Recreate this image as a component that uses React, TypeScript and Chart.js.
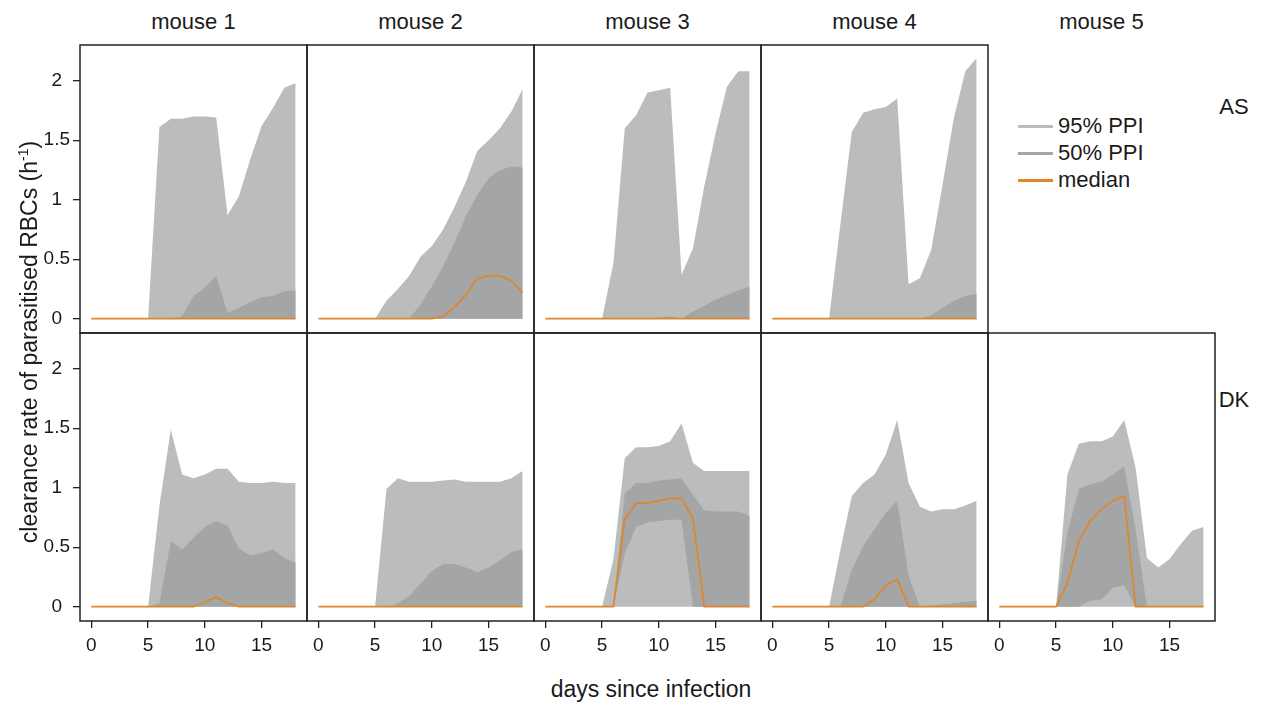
import React, { useEffect, useRef } from 'react';
import { Chart, registerables } from 'chart.js';

Chart.register(...registerables);

// ---------- data ----------
const days = [0, 1, 2, 3, 4, 5, 6, 7, 8, 9, 10, 11, 12, 13, 14, 15, 16, 17, 18];
const mice = ['mouse 1', 'mouse 2', 'mouse 3', 'mouse 4', 'mouse 5'];
const groups = ['AS', 'DK'];
const yTicks = [0, 0.5, 1, 1.5, 2];
const xTicks = [0, 5, 10, 15];
const legendLabels = ['95% PPI', '50% PPI', 'median'];
const zeros = [0, 0, 0, 0, 0, 0, 0, 0, 0, 0, 0, 0, 0, 0, 0, 0, 0, 0, 0];

// AS group
const asM1Upper95 = [0, 0, 0, 0, 0, 0, 1.61, 1.68, 1.68, 1.7, 1.7, 1.69, 0.87, 1.03, 1.34, 1.62, 1.77, 1.94, 1.98];
const asM1Upper50 = [0, 0, 0, 0, 0, 0, 0, 0, 0.02, 0.19, 0.26, 0.36, 0.05, 0.09, 0.14, 0.18, 0.19, 0.23, 0.24];
const asM1Median = zeros;

const asM2Upper95 = [0, 0, 0, 0, 0, 0, 0.15, 0.25, 0.36, 0.52, 0.61, 0.75, 0.94, 1.15, 1.41, 1.5, 1.6, 1.74, 1.93];
const asM2Upper50 = [0, 0, 0, 0, 0, 0, 0, 0, 0, 0.12, 0.27, 0.44, 0.64, 0.86, 1.04, 1.18, 1.25, 1.28, 1.27];
const asM2Median = [0, 0, 0, 0, 0, 0, 0, 0, 0, 0, 0, 0.02, 0.1, 0.2, 0.34, 0.36, 0.36, 0.32, 0.22];

const asM3Upper95 = [0, 0, 0, 0, 0, 0, 0.47, 1.6, 1.71, 1.9, 1.92, 1.94, 0.37, 0.59, 1.11, 1.56, 1.95, 2.08, 2.08];
const asM3Upper50 = [0, 0, 0, 0, 0, 0, 0, 0, 0, 0, 0.01, 0.02, 0, 0.06, 0.11, 0.16, 0.2, 0.24, 0.27];
const asM3Median = zeros;

const asM4Upper95 = [0, 0, 0, 0, 0, 0, 0.8, 1.57, 1.73, 1.76, 1.78, 1.85, 0.29, 0.34, 0.58, 1.13, 1.69, 2.08, 2.19];
const asM4Upper50 = [0, 0, 0, 0, 0, 0, 0, 0, 0, 0, 0, 0, 0, 0, 0.03, 0.09, 0.15, 0.19, 0.21];
const asM4Median = zeros;

// DK group
const dkM1Upper95 = [0, 0, 0, 0, 0, 0, 0.85, 1.49, 1.11, 1.08, 1.11, 1.16, 1.16, 1.05, 1.04, 1.04, 1.05, 1.04, 1.04];
const dkM1Upper50 = [0, 0, 0, 0, 0, 0, 0.03, 0.55, 0.48, 0.58, 0.67, 0.72, 0.68, 0.49, 0.43, 0.45, 0.48, 0.41, 0.37];
const dkM1Median = [0, 0, 0, 0, 0, 0, 0, 0, 0, 0, 0.04, 0.08, 0.03, 0, 0, 0, 0, 0, 0];

const dkM2Upper95 = [0, 0, 0, 0, 0, 0, 0.99, 1.08, 1.05, 1.05, 1.05, 1.06, 1.07, 1.05, 1.05, 1.05, 1.05, 1.08, 1.14];
const dkM2Upper50 = [0, 0, 0, 0, 0, 0, 0, 0.03, 0.09, 0.19, 0.3, 0.36, 0.36, 0.33, 0.29, 0.33, 0.39, 0.46, 0.48];
const dkM2Median = zeros;

const dkM3Upper95 = [0, 0, 0, 0, 0, 0, 0.4, 1.25, 1.34, 1.34, 1.35, 1.39, 1.54, 1.21, 1.14, 1.14, 1.14, 1.14, 1.14];
const dkM3Lower50 = [0, 0, 0, 0, 0, 0, 0, 0.45, 0.67, 0.71, 0.72, 0.73, 0.73, 0, 0, 0, 0, 0, 0];
const dkM3Upper50 = [0, 0, 0, 0, 0, 0, 0, 0.95, 1.04, 1.04, 1.06, 1.07, 1.08, 0.94, 0.81, 0.8, 0.8, 0.8, 0.76];
const dkM3Median = [0, 0, 0, 0, 0, 0, 0, 0.74, 0.87, 0.87, 0.89, 0.91, 0.91, 0.74, 0, 0, 0, 0, 0];

const dkM4Upper95 = [0, 0, 0, 0, 0, 0, 0.48, 0.93, 1.04, 1.11, 1.28, 1.57, 1.04, 0.84, 0.8, 0.82, 0.82, 0.85, 0.89];
const dkM4Upper50 = [0, 0, 0, 0, 0, 0, 0, 0.31, 0.51, 0.65, 0.79, 0.89, 0.26, 0, 0.01, 0.02, 0.03, 0.04, 0.05];
const dkM4Median = [0, 0, 0, 0, 0, 0, 0, 0, 0, 0.06, 0.18, 0.23, 0, 0, 0, 0, 0, 0, 0];

const dkM5Upper95 = [0, 0, 0, 0, 0, 0, 1.11, 1.37, 1.39, 1.39, 1.43, 1.57, 1.17, 0.41, 0.33, 0.4, 0.53, 0.64, 0.67];
const dkM5Lower50 = [0, 0, 0, 0, 0, 0, 0, 0, 0.05, 0.06, 0.16, 0.18, 0, 0, 0, 0, 0, 0, 0];
const dkM5Upper50 = [0, 0, 0, 0, 0, 0, 0.62, 0.99, 1.03, 1.05, 1.11, 1.18, 0.65, 0, 0, 0, 0, 0, 0];
const dkM5Median = [0, 0, 0, 0, 0, 0, 0.2, 0.55, 0.72, 0.82, 0.89, 0.93, 0, 0, 0, 0, 0, 0, 0];

type Series = { l95: number[]; u95: number[]; l50: number[]; u50: number[]; med: number[] };
type PanelDef = { row: number; col: number; s: Series };

const panels: PanelDef[] = [
  { row: 0, col: 0, s: { l95: zeros, u95: asM1Upper95, l50: zeros, u50: asM1Upper50, med: asM1Median } },
  { row: 0, col: 1, s: { l95: zeros, u95: asM2Upper95, l50: zeros, u50: asM2Upper50, med: asM2Median } },
  { row: 0, col: 2, s: { l95: zeros, u95: asM3Upper95, l50: zeros, u50: asM3Upper50, med: asM3Median } },
  { row: 0, col: 3, s: { l95: zeros, u95: asM4Upper95, l50: zeros, u50: asM4Upper50, med: asM4Median } },
  { row: 1, col: 0, s: { l95: zeros, u95: dkM1Upper95, l50: zeros, u50: dkM1Upper50, med: dkM1Median } },
  { row: 1, col: 1, s: { l95: zeros, u95: dkM2Upper95, l50: zeros, u50: dkM2Upper50, med: dkM2Median } },
  { row: 1, col: 2, s: { l95: zeros, u95: dkM3Upper95, l50: dkM3Lower50, u50: dkM3Upper50, med: dkM3Median } },
  { row: 1, col: 3, s: { l95: zeros, u95: dkM4Upper95, l50: zeros, u50: dkM4Upper50, med: dkM4Median } },
  { row: 1, col: 4, s: { l95: zeros, u95: dkM5Upper95, l50: dkM5Lower50, u50: dkM5Upper50, med: dkM5Median } },
];

// ---------- style ----------
const LIGHT = '#babcbd';
const DARK = '#a4a5a6';
const ORANGE = '#e0862c';
const INK = '#1a1a1a';
const FRAME = '#222222';
const FONT = '"Liberation Sans", Arial, Helvetica, sans-serif';

const BOX_LEFT = 80;
const BOX_TOP = 45;
const BOX_W = 227;
const BOX_H = 288;
const PAD = 2;
const Y_AXIS_W = 70;
const X_AXIS_H = 46;

const framePlugin = {
  id: 'frame',
  afterDatasetsDraw(chart: any) {
    const { ctx, chartArea: a } = chart;
    ctx.save();
    ctx.strokeStyle = FRAME;
    ctx.lineWidth = 1.5;
    ctx.strokeRect(a.left, a.top, a.right - a.left, a.bottom - a.top);
    ctx.restore();
  },
};

const pts = (arr: number[]) => days.map((d, i) => ({ x: d, y: arr[i] }));

function Panel({ def }: { def: PanelDef }) {
  const ref = useRef<HTMLCanvasElement | null>(null);
  const { row, col, s } = def;
  const showY = col === 0;
  const showX = row === 1;
  const extraLeft = showY ? Y_AXIS_W : PAD;
  const extraBottom = showX ? X_AXIS_H : PAD;
  const left = BOX_LEFT + BOX_W * col - extraLeft;
  const top = BOX_TOP + BOX_H * row - PAD;
  const width = BOX_W + extraLeft + PAD;
  const height = BOX_H + PAD + extraBottom;

  useEffect(() => {
    if (!ref.current) return;
    const band = { borderColor: 'transparent', borderWidth: 0, pointRadius: 0, tension: 0 };
    const chart = new Chart(ref.current, {
      type: 'line',
      data: {
        datasets: [
          { data: pts(s.med), borderColor: ORANGE, borderWidth: 1.8, pointRadius: 0, fill: false, tension: 0 },
          { ...band, data: pts(s.u50), backgroundColor: DARK, fill: '+1' },
          { ...band, data: pts(s.l50), fill: false },
          { ...band, data: pts(s.u95), backgroundColor: LIGHT, fill: '+1' },
          { ...band, data: pts(s.l95), fill: false },
        ],
      },
      options: {
        responsive: false,
        animation: false,
        events: [],
        layout: {
          padding: { left: showY ? 0 : PAD, right: PAD, top: PAD, bottom: showX ? 0 : PAD },
        },
        plugins: { legend: { display: false }, tooltip: { enabled: false } },
        scales: {
          x: {
            type: 'linear',
            min: -1,
            max: 19,
            display: showX,
            afterBuildTicks: (sc: any) => {
              sc.ticks = xTicks.map((v) => ({ value: v }));
            },
            afterFit: (sc: any) => {
              if (showX) sc.height = X_AXIS_H;
              sc.paddingLeft = 0;
              sc.paddingRight = 0;
            },
            grid: { display: true, drawOnChartArea: false, drawTicks: true, tickLength: 7, color: FRAME, lineWidth: 1.3 },
            border: { display: false },
            ticks: {
              color: INK,
              font: { family: FONT, size: 19 },
              padding: 6,
              maxRotation: 0,
              autoSkip: false,
              callback: (v: any) => String(v),
            },
          },
          y: {
            type: 'linear',
            min: -0.12,
            max: 2.3,
            display: showY,
            afterBuildTicks: (sc: any) => {
              sc.ticks = yTicks.map((v) => ({ value: v }));
            },
            afterFit: (sc: any) => {
              if (showY) sc.width = Y_AXIS_W;
              sc.paddingTop = 0;
              sc.paddingBottom = 0;
            },
            grid: { display: true, drawOnChartArea: false, drawTicks: true, tickLength: 7, color: FRAME, lineWidth: 1.3 },
            border: { display: false },
            ticks: {
              color: INK,
              font: { family: FONT, size: 19 },
              padding: 3,
              crossAlign: 'center',
              autoSkip: false,
              callback: (v: any) => String(v),
            },
          },
        },
      },
      plugins: [framePlugin],
    } as any);
    return () => chart.destroy();
  }, []);

  return (
    <canvas
      ref={ref}
      width={width}
      height={height}
      style={{ position: 'absolute', left, top, width, height }}
    />
  );
}

const textBase: React.CSSProperties = {
  position: 'absolute',
  fontFamily: FONT,
  fontSize: 22,
  color: INK,
  lineHeight: '26px',
  whiteSpace: 'nowrap',
};

export default function App() {
  const legendColors = [LIGHT, DARK, ORANGE];
  return (
    <div style={{ position: 'absolute', left: 0, top: 0, width: 1263, height: 706, background: '#fff', overflow: 'hidden' }}>
      {mice.map((m, i) => (
        <div key={m} style={{ ...textBase, left: BOX_LEFT + BOX_W * i + BOX_W / 2 - 100, width: 200, top: 9, textAlign: 'center' }}>
          {m}
        </div>
      ))}
      {groups.map((g, i) => (
        <div key={g} style={{ ...textBase, left: 1214, width: 40, top: i === 0 ? 94 : 387, textAlign: 'center' }}>
          {g}
        </div>
      ))}
      {panels.map((p) => (
        <Panel key={`${p.row}-${p.col}`} def={p} />
      ))}
      {legendLabels.map((l, i) => (
        <div key={l} style={{ position: 'absolute', left: 1018, top: 113 + i * 27, height: 26, display: 'flex', alignItems: 'center' }}>
          <div style={{ width: 35, height: 3, background: legendColors[i], marginRight: 5 }} />
          <div style={{ ...textBase, position: 'static' }}>{l}</div>
        </div>
      ))}
      <div style={{ ...textBase, fontSize: 23, left: 651 - 150, width: 300, top: 676, textAlign: 'center' }}>days since infection</div>
      <div
        style={{
          ...textBase,
          fontSize: 23,
          left: 29 - 250,
          width: 500,
          top: 342 - 13,
          textAlign: 'center',
          transform: 'rotate(-90deg)',
        }}
      >
        clearance rate of parasitised RBCs (h<sup style={{ fontSize: 14, lineHeight: 0 }}>-1</sup>)
      </div>
    </div>
  );
}
